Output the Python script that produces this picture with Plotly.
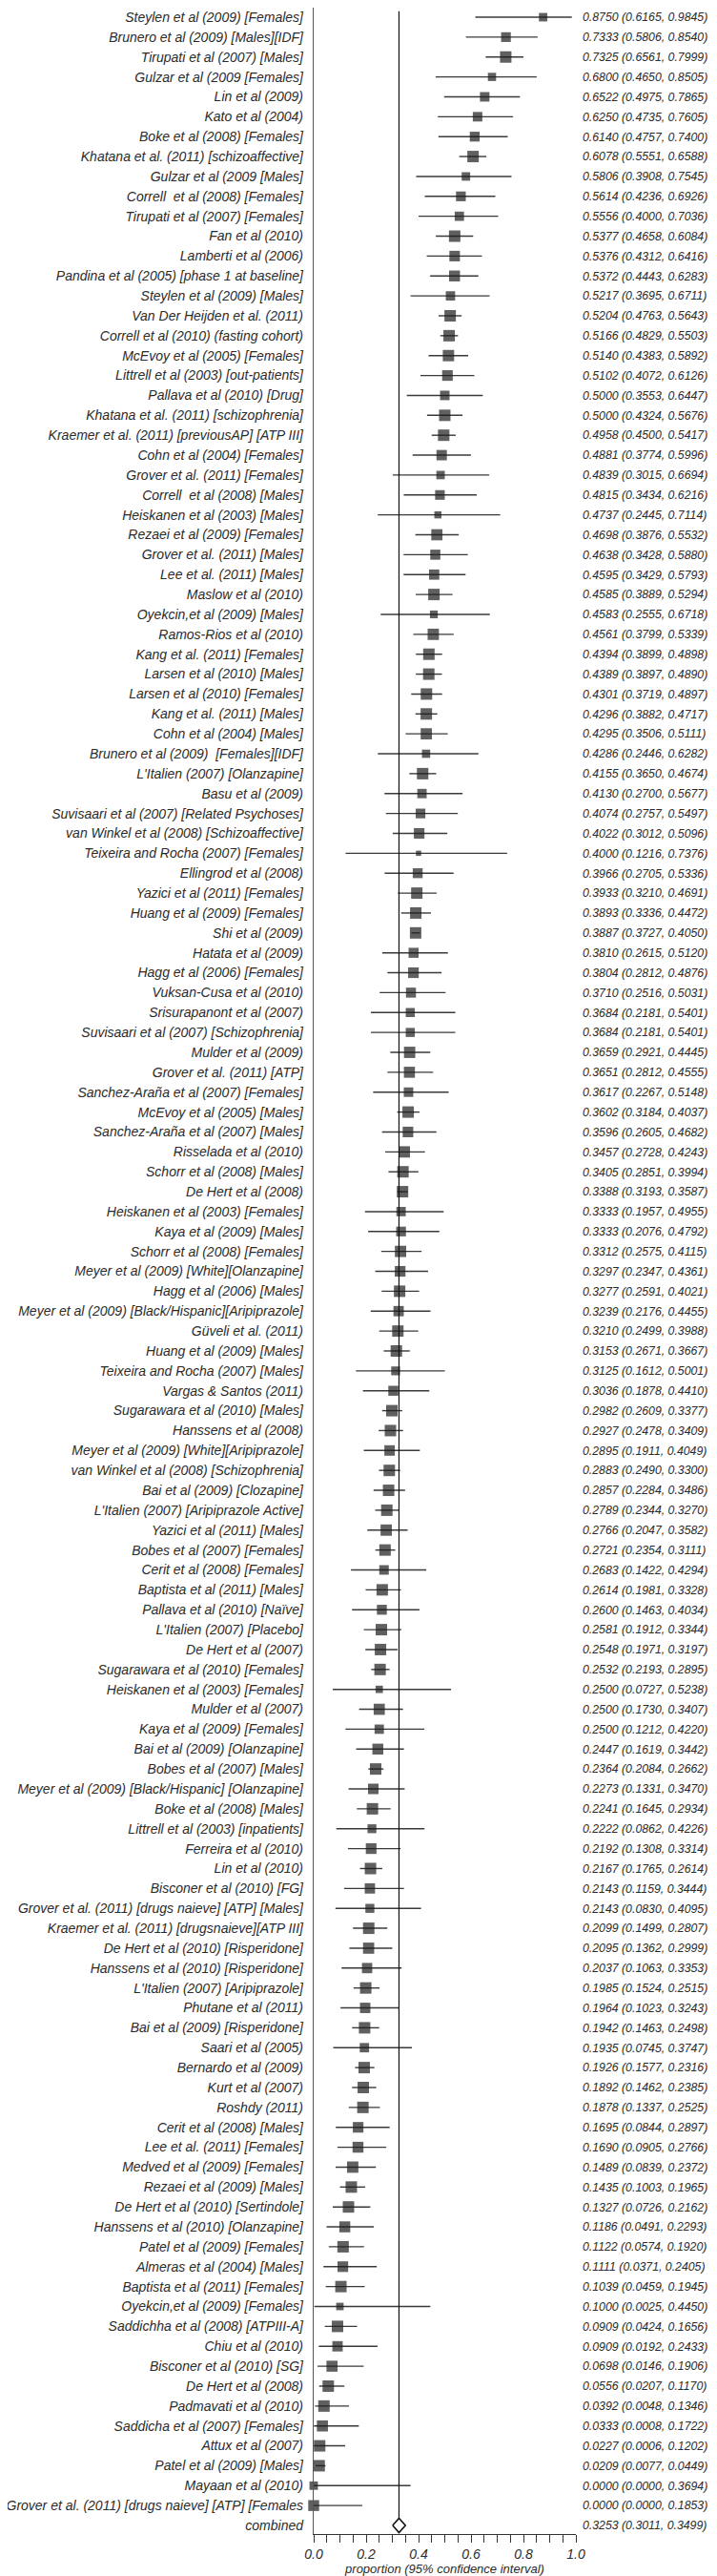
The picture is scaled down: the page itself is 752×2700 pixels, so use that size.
import numpy as np
import plotly.graph_objects as go

studies = [
    "Steylen et al (2009) [Females]", "Brunero et al (2009) [Males][IDF]", "Tirupati et al (2007) [Males]",
    "Gulzar et al (2009 [Females]", "Lin et al (2009)", "Kato et al (2004)", "Boke et al (2008) [Females]",
    "Khatana et al. (2011) [schizoaffective]", "Gulzar et al (2009 [Males]", "Correll  et al (2008) [Females]",
    "Tirupati et al (2007) [Females]", "Fan et al (2010)", "Lamberti et al (2006)",
    "Pandina et al (2005) [phase 1 at baseline]", "Steylen et al (2009) [Males]", "Van Der Heijden et al. (2011)",
    "Correll et al (2010) (fasting cohort)", "McEvoy et al (2005) [Females]", "Littrell et al (2003) [out-patients]",
    "Pallava et al (2010) [Drug]", "Khatana et al. (2011) [schizophrenia]", "Kraemer et al. (2011) [previousAP] [ATP III]",
    "Cohn et al (2004) [Females]", "Grover et al. (2011) [Females]", "Correll  et al (2008) [Males]",
    "Heiskanen et al (2003) [Males]", "Rezaei et al (2009) [Females]", "Grover et al. (2011) [Males]",
    "Lee et al. (2011) [Males]", "Maslow et al (2010)", "Oyekcin,et al (2009) [Males]", "Ramos-Rios et al (2010)",
    "Kang et al. (2011) [Females]", "Larsen et al (2010) [Males]", "Larsen et al (2010) [Females]",
    "Kang et al. (2011) [Males]", "Cohn et al (2004) [Males]", "Brunero et al (2009)  [Females][IDF]",
    "L'Italien (2007) [Olanzapine]", "Basu et al (2009)", "Suvisaari et al (2007) [Related Psychoses]",
    "van Winkel et al (2008) [Schizoaffective]", "Teixeira and Rocha (2007) [Females]", "Ellingrod et al (2008)",
    "Yazici et al (2011) [Females]", "Huang et al (2009) [Females]", "Shi et al (2009)", "Hatata et al (2009)",
    "Hagg et al (2006) [Females]", "Vuksan-Cusa et al (2010)", "Srisurapanont et al (2007)",
    "Suvisaari et al (2007) [Schizophrenia]", "Mulder et al (2009)", "Grover et al. (2011) [ATP]",
    "Sanchez-Araña et al (2007) [Females]", "McEvoy et al (2005) [Males]", "Sanchez-Araña et al (2007) [Males]",
    "Risselada et al (2010)", "Schorr et al (2008) [Males]", "De Hert et al (2008)",
    "Heiskanen et al (2003) [Females]", "Kaya et al (2009) [Males]", "Schorr et al (2008) [Females]",
    "Meyer et al (2009) [White][Olanzapine]", "Hagg et al (2006) [Males]",
    "Meyer et al (2009) [Black/Hispanic][Aripiprazole]", "Güveli et al. (2011)", "Huang et al (2009) [Males]",
    "Teixeira and Rocha (2007) [Males]", "Vargas & Santos (2011)", "Sugarawara et al (2010) [Males]",
    "Hanssens et al (2008)", "Meyer et al (2009) [White][Aripiprazole]", "van Winkel et al (2008) [Schizophrenia]",
    "Bai et al (2009) [Clozapine]", "L'Italien (2007) [Aripiprazole Active]", "Yazici et al (2011) [Males]",
    "Bobes et al (2007) [Females]", "Cerit et al (2008) [Females]", "Baptista et al (2011) [Males]",
    "Pallava et al (2010) [Naïve]", "L'Italien (2007) [Placebo]", "De Hert et al (2007)",
    "Sugarawara et al (2010) [Females]", "Heiskanen et al (2003) [Females]", "Mulder et al (2007)",
    "Kaya et al (2009) [Females]", "Bai et al (2009) [Olanzapine]", "Bobes et al (2007) [Males]",
    "Meyer et al (2009) [Black/Hispanic] [Olanzapine]", "Boke et al (2008) [Males]",
    "Littrell et al (2003) [inpatients]", "Ferreira et al (2010)", "Lin et al (2010)", "Bisconer et al (2010) [FG]",
    "Grover et al. (2011) [drugs naieve] [ATP] [Males]", "Kraemer et al. (2011) [drugsnaieve][ATP III]",
    "De Hert et al (2010) [Risperidone]", "Hanssens et al (2010) [Risperidone]", "L'Italien (2007) [Aripiprazole]",
    "Phutane et al (2011)", "Bai et al (2009) [Risperidone]", "Saari et al (2005)", "Bernardo et al (2009)",
    "Kurt et al (2007)", "Roshdy (2011)", "Cerit et al (2008) [Males]", "Lee et al. (2011) [Females]",
    "Medved et al (2009) [Females]", "Rezaei et al (2009) [Males]", "De Hert et al (2010) [Sertindole]",
    "Hanssens et al (2010) [Olanzapine]", "Patel et al (2009) [Females]", "Almeras et al (2004) [Males]",
    "Baptista et al (2011) [Females]", "Oyekcin,et al (2009) [Females]", "Saddichha et al (2008) [ATPIII-A]",
    "Chiu et al (2010)", "Bisconer et al (2010) [SG]", "De Hert et al (2008)", "Padmavati et al (2010)",
    "Saddicha et al (2007) [Females]", "Attux et al (2007)", "Patel et al (2009) [Males]", "Mayaan et al (2010)",
    "Grover et al. (2011) [drugs naieve] [ATP] [Females",
]

prop = [
    0.8750, 0.7333, 0.7325, 0.6800, 0.6522, 0.6250, 0.6140, 0.6078, 0.5806, 0.5614,
    0.5556, 0.5377, 0.5376, 0.5372, 0.5217, 0.5204, 0.5166, 0.5140, 0.5102, 0.5000,
    0.5000, 0.4958, 0.4881, 0.4839, 0.4815, 0.4737, 0.4698, 0.4638, 0.4595, 0.4585,
    0.4583, 0.4561, 0.4394, 0.4389, 0.4301, 0.4296, 0.4295, 0.4286, 0.4155, 0.4130,
    0.4074, 0.4022, 0.4000, 0.3966, 0.3933, 0.3893, 0.3887, 0.3810, 0.3804, 0.3710,
    0.3684, 0.3684, 0.3659, 0.3651, 0.3617, 0.3602, 0.3596, 0.3457, 0.3405, 0.3388,
    0.3333, 0.3333, 0.3312, 0.3297, 0.3277, 0.3239, 0.3210, 0.3153, 0.3125, 0.3036,
    0.2982, 0.2927, 0.2895, 0.2883, 0.2857, 0.2789, 0.2766, 0.2721, 0.2683, 0.2614,
    0.2600, 0.2581, 0.2548, 0.2532, 0.2500, 0.2500, 0.2500, 0.2447, 0.2364, 0.2273,
    0.2241, 0.2222, 0.2192, 0.2167, 0.2143, 0.2143, 0.2099, 0.2095, 0.2037, 0.1985,
    0.1964, 0.1942, 0.1935, 0.1926, 0.1892, 0.1878, 0.1695, 0.1690, 0.1489, 0.1435,
    0.1327, 0.1186, 0.1122, 0.1111, 0.1039, 0.1000, 0.0909, 0.0909, 0.0698, 0.0556,
    0.0392, 0.0333, 0.0227, 0.0209, 0.0000, 0.0000,
]

lower = [
    0.6165, 0.5806, 0.6561, 0.4650, 0.4975, 0.4735, 0.4757, 0.5551, 0.3908, 0.4236,
    0.4000, 0.4658, 0.4312, 0.4443, 0.3695, 0.4763, 0.4829, 0.4383, 0.4072, 0.3553,
    0.4324, 0.4500, 0.3774, 0.3015, 0.3434, 0.2445, 0.3876, 0.3428, 0.3429, 0.3889,
    0.2555, 0.3799, 0.3899, 0.3897, 0.3719, 0.3882, 0.3506, 0.2446, 0.3650, 0.2700,
    0.2757, 0.3012, 0.1216, 0.2705, 0.3210, 0.3336, 0.3727, 0.2615, 0.2812, 0.2516,
    0.2181, 0.2181, 0.2921, 0.2812, 0.2267, 0.3184, 0.2605, 0.2728, 0.2851, 0.3193,
    0.1957, 0.2076, 0.2575, 0.2347, 0.2591, 0.2176, 0.2499, 0.2671, 0.1612, 0.1878,
    0.2609, 0.2478, 0.1911, 0.2490, 0.2284, 0.2344, 0.2047, 0.2354, 0.1422, 0.1981,
    0.1463, 0.1912, 0.1971, 0.2193, 0.0727, 0.1730, 0.1212, 0.1619, 0.2084, 0.1331,
    0.1645, 0.0862, 0.1308, 0.1765, 0.1159, 0.0830, 0.1499, 0.1362, 0.1063, 0.1524,
    0.1023, 0.1463, 0.0745, 0.1577, 0.1462, 0.1337, 0.0844, 0.0905, 0.0839, 0.1003,
    0.0726, 0.0491, 0.0574, 0.0371, 0.0459, 0.0025, 0.0424, 0.0192, 0.0146, 0.0207,
    0.0048, 0.0008, 0.0006, 0.0077, 0.0000, 0.0000,
]

upper = [
    0.9845, 0.8540, 0.7999, 0.8505, 0.7865, 0.7605, 0.7400, 0.6588, 0.7545, 0.6926,
    0.7036, 0.6084, 0.6416, 0.6283, 0.6711, 0.5643, 0.5503, 0.5892, 0.6126, 0.6447,
    0.5676, 0.5417, 0.5996, 0.6694, 0.6216, 0.7114, 0.5532, 0.5880, 0.5793, 0.5294,
    0.6718, 0.5339, 0.4898, 0.4890, 0.4897, 0.4717, 0.5111, 0.6282, 0.4674, 0.5677,
    0.5497, 0.5096, 0.7376, 0.5336, 0.4691, 0.4472, 0.4050, 0.5120, 0.4876, 0.5031,
    0.5401, 0.5401, 0.4445, 0.4555, 0.5148, 0.4037, 0.4682, 0.4243, 0.3994, 0.3587,
    0.4955, 0.4792, 0.4115, 0.4361, 0.4021, 0.4455, 0.3988, 0.3667, 0.5001, 0.4410,
    0.3377, 0.3409, 0.4049, 0.3300, 0.3486, 0.3270, 0.3582, 0.3111, 0.4294, 0.3328,
    0.4034, 0.3344, 0.3197, 0.2895, 0.5238, 0.3407, 0.4220, 0.3442, 0.2662, 0.3470,
    0.2934, 0.4226, 0.3314, 0.2614, 0.3444, 0.4095, 0.2807, 0.2999, 0.3353, 0.2515,
    0.3243, 0.2498, 0.3747, 0.2316, 0.2385, 0.2525, 0.2897, 0.2766, 0.2372, 0.1965,
    0.2162, 0.2293, 0.1920, 0.2405, 0.1945, 0.4450, 0.1656, 0.2433, 0.1906, 0.1170,
    0.1346, 0.1722, 0.1202, 0.0449, 0.3694, 0.1853,
]

combined_label = "combined"
combined_est, combined_lo, combined_hi = 0.3253, 0.3011, 0.3499

x_ticks = [0.0, 0.2, 0.4, 0.6, 0.8, 1.0]

p = np.array(prop)
lo = np.array(lower)
hi = np.array(upper)
n = len(studies)
rows = np.arange(1, n + 1)
comb_row = n + 1

labels = studies + [combined_label]
values = [f"{a:.4f} ({b:.4f}, {c:.4f})" for a, b, c in zip(prop, lower, upper)]
values.append(f"{combined_est:.4f} ({combined_lo:.4f}, {combined_hi:.4f})")
all_rows = list(range(1, comb_row + 1))

# box size shrinks as the interval widens
sizes = np.clip(14 - 14 * (hi - lo), 5.5, 12)

FONT = "Liberation Sans, Arial, sans-serif"
TXT = "#2b2b2b"

fig = go.Figure()

fig.add_trace(go.Scatter(
    x=p, y=rows, mode="markers",
    marker=dict(symbol="square", size=sizes, color="#1c1c1c", line=dict(width=0)),
    error_x=dict(type="data", symmetric=False, array=hi - p, arrayminus=p - lo,
                 thickness=1.4, width=0, color="#3a3a3a"),
    cliponaxis=False, showlegend=False, hoverinfo="skip",
))

# diamond for pooled estimate
h = 0.36
fig.add_trace(go.Scatter(
    x=[combined_lo, combined_est, combined_hi, combined_est, combined_lo],
    y=[comb_row, comb_row - h, comb_row, comb_row + h, comb_row],
    mode="lines", fill="toself", fillcolor="white",
    line=dict(color="#111111", width=1.6), showlegend=False, hoverinfo="skip",
))

# invisible trace so the right-hand axis exists
fig.add_trace(go.Scatter(x=[combined_est], y=[comb_row], yaxis="y2", mode="markers",
                         marker=dict(opacity=0), showlegend=False, hoverinfo="skip"))

fig.add_shape(type="line", x0=combined_est, x1=combined_est, y0=0.7, y1=comb_row - h,
              xref="x", yref="y", line=dict(color="#111111", width=1.2))

yrange = [comb_row + 0.43, 0.52]

fig.update_layout(
    width=752, height=2700,
    margin=dict(l=321, r=156, t=0, b=52),
    paper_bgcolor="white", plot_bgcolor="white",
    font=dict(family=FONT, color=TXT, size=13, style="italic"),
    xaxis=dict(
        range=[0, 1], showgrid=False, zeroline=False,
        showline=True, linecolor="#333333", linewidth=1.4,
        tickvals=x_ticks, ticktext=[f"{t:.1f}" for t in x_ticks],
        ticks="outside", ticklen=8, tickcolor="#333333", tickwidth=1.2,
        tickfont=dict(family=FONT, size=14, color=TXT, style="italic"),
        minor=dict(dtick=0.05, ticks="outside", ticklen=8, tickcolor="#333333", tickwidth=1.2),
        title=dict(text="proportion (95% confidence interval)", standoff=2,
                   font=dict(family=FONT, size=13, color=TXT, style="italic")),
        automargin=False,
    ),
    yaxis=dict(
        range=yrange, showgrid=False, zeroline=False,
        showline=True, linecolor="#555555", linewidth=1.4,
        tickvals=all_rows, ticktext=labels, ticks="",
        tickfont=dict(family=FONT, size=14, color=TXT, style="italic"),
        ticklabelstandoff=7, automargin=False,
    ),
    yaxis2=dict(
        range=yrange, overlaying="y", side="right", showgrid=False, zeroline=False,
        showline=False, tickvals=all_rows, ticktext=values, ticks="",
        tickfont=dict(family=FONT, size=12.3, color=TXT, style="italic"),
        ticklabelstandoff=6, automargin=False,
    ),
)

fig.write_html("out.html")
